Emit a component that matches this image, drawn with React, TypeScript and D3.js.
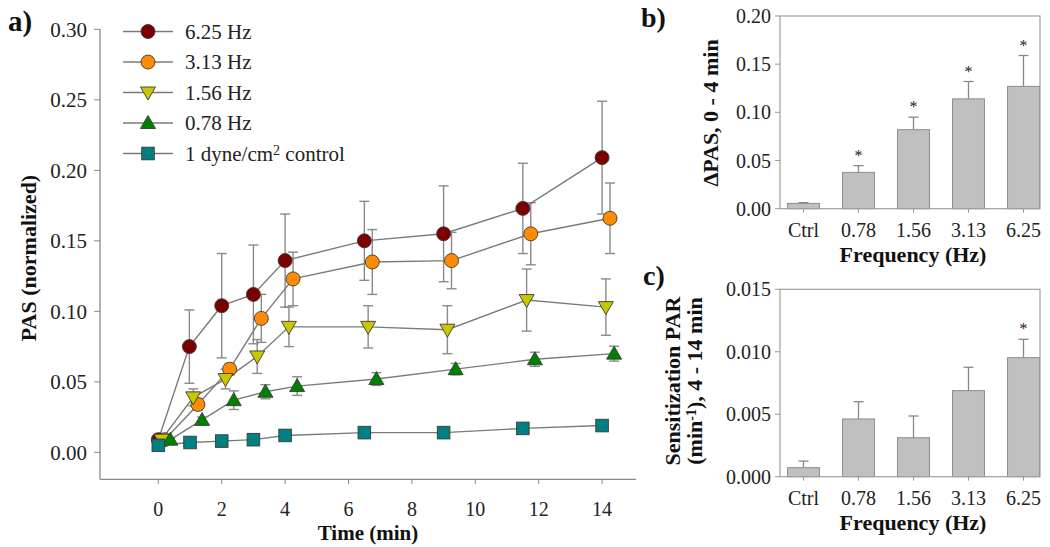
import React from 'react';
import * as d3 from 'd3';

const FONT = 'Liberation Serif, Times New Roman, serif';

// ---------- Panel a data ----------
const timeTicks = [0, 2, 4, 6, 8, 10, 12, 14];
const pasTicks = [0, 0.05, 0.1, 0.15, 0.2, 0.25, 0.3];

const time625 = [0, 0.98, 2.0, 3.0, 4.0, 6.5, 9.0, 11.5, 14.0];
const pas625 = [0.009, 0.075, 0.104, 0.112, 0.136, 0.150, 0.155, 0.173, 0.209];
const err625 = [0.002, 0.026, 0.037, 0.035, 0.033, 0.028, 0.034, 0.032, 0.040];

const time313 = [0.2, 1.25, 2.25, 3.25, 4.25, 6.75, 9.25, 11.75, 14.25];
const pas313 = [0.009, 0.034, 0.059, 0.095, 0.123, 0.135, 0.136, 0.155, 0.166];
const err313 = [0.002, 0.004, 0.004, 0.017, 0.019, 0.023, 0.020, 0.022, 0.025];

const time156 = [0.1, 1.1, 2.12, 3.12, 4.12, 6.62, 9.12, 11.62, 14.12];
const pas156 = [0.009, 0.039, 0.052, 0.068, 0.089, 0.089, 0.087, 0.108, 0.103];
const err156 = [0.002, 0.006, 0.007, 0.012, 0.014, 0.015, 0.017, 0.022, 0.020];

const time078 = [0.38, 1.38, 2.38, 3.38, 4.38, 6.88, 9.38, 11.88, 14.38];
const pas078 = [0.009, 0.023, 0.037, 0.043, 0.047, 0.052, 0.059, 0.066, 0.070];
const err078 = [0.001, 0.002, 0.0066, 0.005, 0.0066, 0.0045, 0.004, 0.005, 0.0053];

const timeCtrl = [0, 1, 2, 3, 4, 6.5, 9, 11.5, 14];
const pasCtrl = [0.005, 0.007, 0.008, 0.009, 0.012, 0.014, 0.014, 0.017, 0.019];
const errCtrl = [0.001, 0.001, 0.001, 0.001, 0.001, 0.001, 0.001, 0.002, 0.001];

const seriesNames = ['6.25 Hz', '3.13 Hz', '1.56 Hz', '0.78 Hz', '1 dyne/cm2 control'];
const seriesColors = ['#7b0000', '#ff8c00', '#c8c800', '#008000', '#008080'];
const seriesShapes = ['circle', 'circle', 'triDown', 'triUp', 'square'];

// ---------- Panel b / c data ----------
const freqCats = ['Ctrl', '0.78', '1.56', '3.13', '6.25'];
const dPas = [0.0055, 0.0377, 0.082, 0.114, 0.127];
const dPasErr = [0.0008, 0.007, 0.013, 0.018, 0.032];
const dPasStar = [false, true, true, true, true];
const dPasTicks = [0, 0.05, 0.1, 0.15, 0.2];

const sens = [0.00072, 0.00462, 0.00312, 0.00689, 0.00953];
const sensErr = [0.00053, 0.00138, 0.00174, 0.00187, 0.00147];
const sensStar = [false, false, false, false, true];
const sensTicks = [0, 0.005, 0.01, 0.015];

const tStyle = { fontFamily: FONT };

function Marker({ shape, x, y, color }: { shape: string; x: number; y: number; color: string }) {
  const st = { fill: color, stroke: '#3a3a3a', strokeWidth: 0.9 };
  if (shape === 'circle') return <circle cx={x} cy={y} r={7} {...st} />;
  if (shape === 'square') return <rect x={x - 6.3} y={y - 6.3} width={12.6} height={12.6} {...st} />;
  if (shape === 'triUp')
    return <polygon points={`${x},${y - 7.5} ${x + 7.5},${y + 5.5} ${x - 7.5},${y + 5.5}`} {...st} />;
  return <polygon points={`${x},${y + 7.5} ${x + 7.5},${y - 5.5} ${x - 7.5},${y - 5.5}`} {...st} />;
}

function BarPanel({
  values, errs, stars, ticks, top, bottom, tickFmt, yDomainMax,
}: {
  values: number[]; errs: number[]; stars: boolean[]; ticks: number[];
  top: number; bottom: number; tickFmt: (v: number) => string; yDomainMax: number;
}) {
  const left = 780, right = 1040;
  const y = d3.scaleLinear().domain([0, yDomainMax]).range([bottom, top]);
  const x = d3.scaleBand().domain(freqCats).range([776, 1051]).paddingInner(0.42).paddingOuter(0.21);
  const bw = x.bandwidth();
  return (
    <g>
      {values.map((v, i) => {
        const cx = (x(freqCats[i]) as number) + bw / 2;
        const capY = y(v + errs[i]);
        return (
          <g key={i}>
            <line x1={cx} x2={cx} y1={y(v)} y2={capY} stroke="#888" strokeWidth={1.3} />
            <line x1={cx - 5} x2={cx + 5} y1={capY} y2={capY} stroke="#888" strokeWidth={1.3} />
            <rect x={cx - bw / 2} y={y(v)} width={bw} height={bottom - y(v)} fill="#c0c0c0" stroke="#8c8c8c" strokeWidth={1} />
            {stars[i] && (
              <text x={cx} y={capY - 5} textAnchor="middle" fontSize={16} style={tStyle} fill="#222">*</text>
            )}
            <line x1={cx} x2={cx} y1={bottom} y2={bottom + 4} stroke="#999" strokeWidth={1} />
            <text x={cx} y={bottom + 28} textAnchor="middle" fontSize={20} style={tStyle} fill="#222">{freqCats[i]}</text>
          </g>
        );
      })}
      <rect x={left} y={top} width={right - left} height={bottom - top} fill="none" stroke="#a0a0a0" strokeWidth={1.2} />
      {ticks.map((t) => (
        <g key={t}>
          <line x1={left - 5} x2={left} y1={y(t)} y2={y(t)} stroke="#999" strokeWidth={1} />
          <text x={left - 9} y={y(t)} dy="0.35em" textAnchor="end" fontSize={20} style={tStyle} fill="#222">{tickFmt(t)}</text>
        </g>
      ))}
      <text x={913} y={bottom + 53} textAnchor="middle" fontSize={22} fontWeight="bold" style={tStyle} fill="#111">Frequency (Hz)</text>
    </g>
  );
}

export default function App() {
  const x = d3.scaleLinear().domain([-1.84, 15.07]).range([100, 636]);
  const y = d3.scaleLinear().domain([-0.0191, 0.3]).range([479.3, 29.3]);

  const times = [time625, time313, time156, time078, timeCtrl];
  const vals = [pas625, pas313, pas156, pas078, pasCtrl];
  const errs = [err625, err313, err156, err078, errCtrl];
  const line = d3.line<[number, number]>().x((d) => x(d[0])).y((d) => y(d[1]));

  return (
    <svg width={1050} height={547} style={{ position: 'absolute', left: 0, top: 0, background: '#fff', fontFamily: FONT }}>
      <rect width={1050} height={547} fill="#fff" />
      {/* Panel a */}
      <text x={8} y={31} fontSize={29} fontWeight="bold" style={tStyle} fill="#111">a)</text>
      <line x1={100} x2={100} y1={29} y2={479.3} stroke="#8a8a8a" strokeWidth={1.3} />
      <line x1={100} x2={636} y1={479.3} y2={479.3} stroke="#8a8a8a" strokeWidth={1.3} />
      {pasTicks.map((t) => (
        <g key={t}>
          <line x1={94} x2={100} y1={y(t)} y2={y(t)} stroke="#8a8a8a" strokeWidth={1} />
          <text x={87} y={y(t)} dy="0.35em" textAnchor="end" fontSize={21} style={tStyle} fill="#222">{t.toFixed(2)}</text>
        </g>
      ))}
      {timeTicks.map((t) => (
        <g key={t}>
          <line x1={x(t)} x2={x(t)} y1={479.3} y2={484} stroke="#8a8a8a" strokeWidth={1} />
          <text x={x(t)} y={516} textAnchor="middle" fontSize={20} style={tStyle} fill="#222">{t}</text>
        </g>
      ))}
      <text x={368} y={540} textAnchor="middle" fontSize={21} fontWeight="bold" style={tStyle} fill="#111">Time (min)</text>
      <text transform="translate(36,258) rotate(-90)" textAnchor="middle" fontSize={22} fontWeight="bold" style={tStyle} fill="#111">PAS (normalized)</text>

      {/* error bars */}
      {vals.map((vs, si) => (
        <g key={'e' + si}>
          {vs.map((v, i) => {
            const cx = x(times[si][i]);
            const y1 = y(v - errs[si][i]);
            const y2 = y(v + errs[si][i]);
            return (
              <g key={i}>
                <line x1={cx} x2={cx} y1={y1} y2={y2} stroke="#8a8a8a" strokeWidth={1.4} />
                <line x1={cx - 5} x2={cx + 5} y1={y1} y2={y1} stroke="#8a8a8a" strokeWidth={1.4} />
                <line x1={cx - 5} x2={cx + 5} y1={y2} y2={y2} stroke="#8a8a8a" strokeWidth={1.4} />
              </g>
            );
          })}
        </g>
      ))}
      {/* lines */}
      {vals.map((vs, si) => (
        <path key={'l' + si} d={line(vs.map((v, i) => [times[si][i], v] as [number, number])) || ''} fill="none" stroke="#7a7a7a" strokeWidth={1.4} />
      ))}
      {/* markers */}
      {vals.map((vs, si) => (
        <g key={'m' + si}>
          {vs.map((v, i) => (
            <Marker key={i} shape={seriesShapes[si]} x={x(times[si][i])} y={y(v)} color={seriesColors[si]} />
          ))}
        </g>
      ))}

      {/* legend */}
      {seriesNames.map((n, i) => {
        const ly = 31.5 + i * 30.5;
        return (
          <g key={n}>
            <line x1={123} x2={173} y1={ly} y2={ly} stroke="#7a7a7a" strokeWidth={1.4} />
            <Marker shape={seriesShapes[i]} x={148} y={ly} color={seriesColors[i]} />
            <text x={185} y={ly} dy="0.35em" fontSize={21} style={tStyle} fill="#222">
              {n.endsWith('control') ? (
                <>
                  1 dyne/cm<tspan dy="-0.45em" fontSize={14}>2</tspan><tspan dy="0.3em"> control</tspan>
                </>
              ) : n}
            </text>
          </g>
        );
      })}

      {/* Panel b */}
      <text x={641} y={27} fontSize={28} fontWeight="bold" style={tStyle} fill="#111">b)</text>
      <text transform="translate(718,113) rotate(-90)" textAnchor="middle" fontSize={22} fontWeight="bold" style={tStyle} fill="#111">ΔPAS, 0 - 4 min</text>
      <BarPanel values={dPas} errs={dPasErr} stars={dPasStar} ticks={dPasTicks} top={16} bottom={208.7}
        tickFmt={(v) => v.toFixed(2)} yDomainMax={0.2} />

      {/* Panel c */}
      <text x={643} y={285} fontSize={28} fontWeight="bold" style={tStyle} fill="#111">c)</text>
      <text transform="translate(680,381) rotate(-90)" textAnchor="middle" fontSize={22} fontWeight="bold" style={tStyle} fill="#111">Sensitization PAR</text>
      <text transform="translate(702,381) rotate(-90)" textAnchor="middle" fontSize={22} fontWeight="bold" style={tStyle} fill="#111">
        (min<tspan dy="-0.45em" fontSize={14}>-1</tspan><tspan dy="0.3em">), 4 - 14 min</tspan>
      </text>
      <BarPanel values={sens} errs={sensErr} stars={sensStar} ticks={sensTicks} top={289.3} bottom={476.7}
        tickFmt={(v) => v.toFixed(3)} yDomainMax={0.015} />
    </svg>
  );
}
